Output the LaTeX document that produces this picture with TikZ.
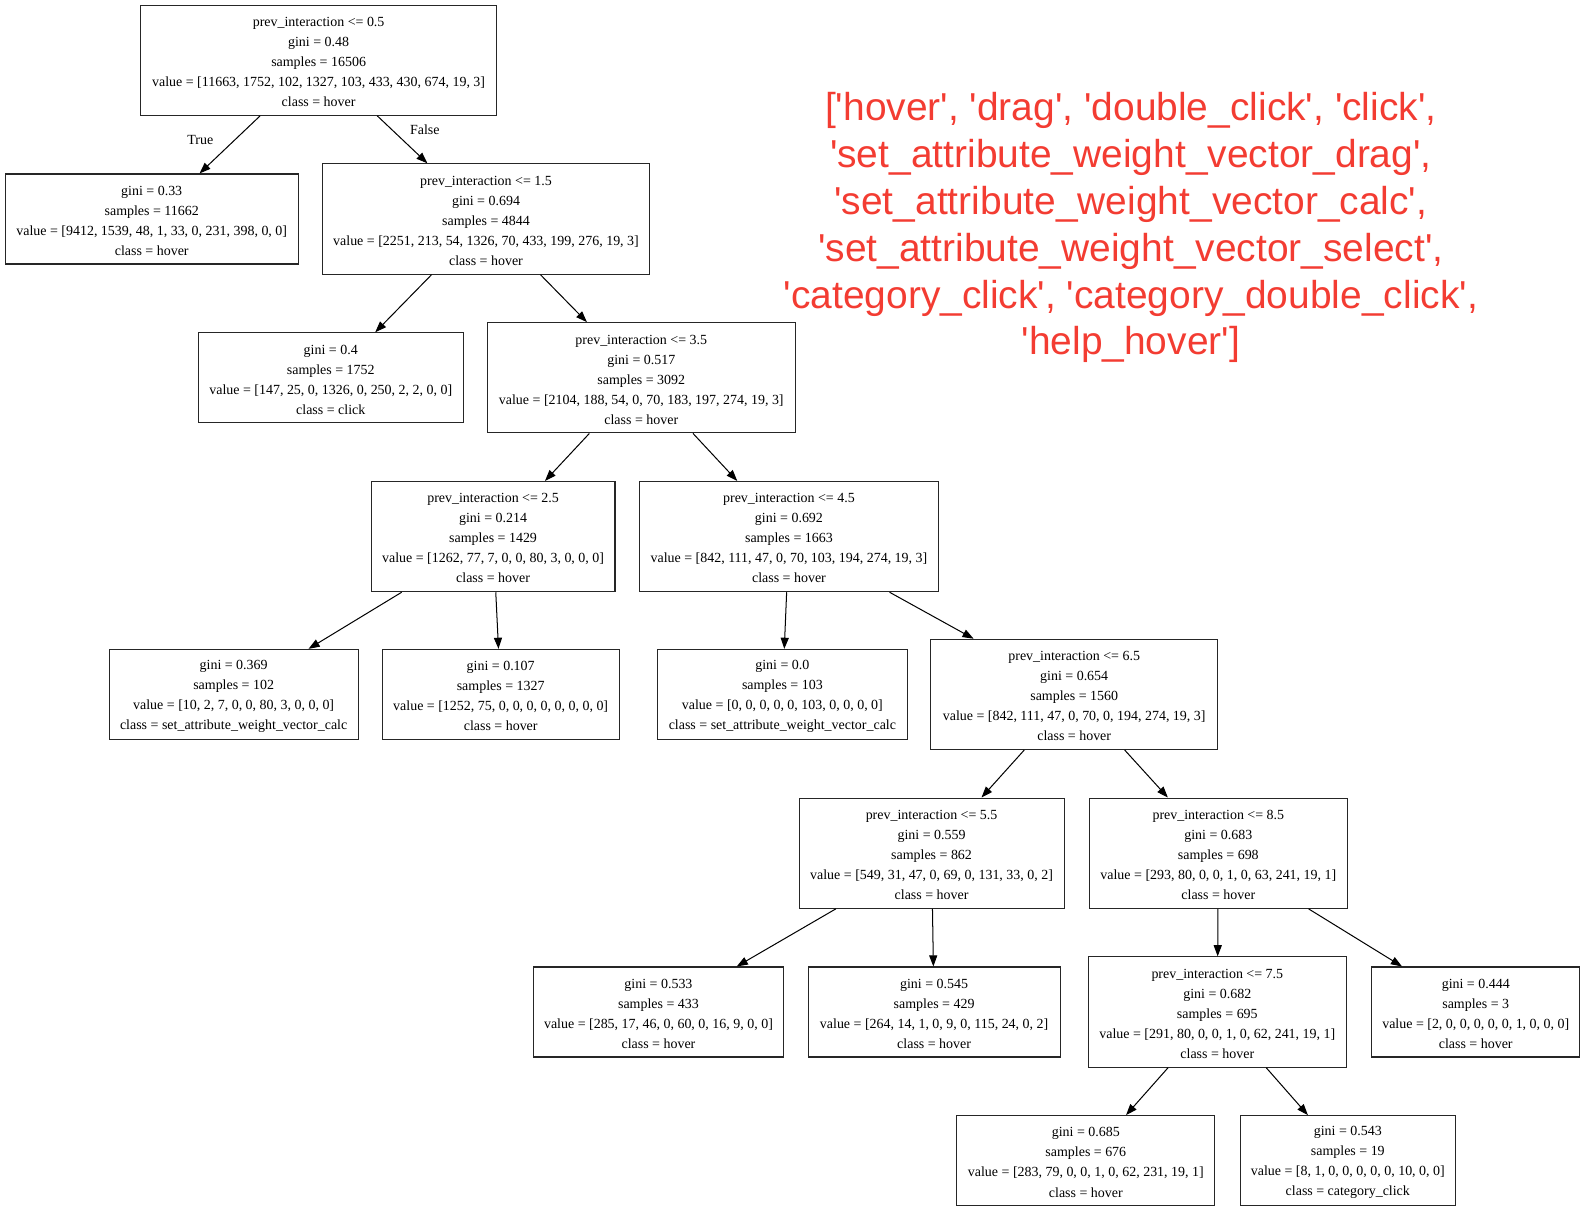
\documentclass[tikz,border=0pt]{standalone}
\usepackage{fontspec}
\setmainfont{Liberation Serif}
\newfontfamily\listfont{Liberation Sans}
\usetikzlibrary{arrows.meta}
\definecolor{classred}{RGB}{243,60,50}
\begin{document}
\begin{tikzpicture}[x=1pt,y=-1pt,
  tn/.style={draw=black!85, line width=1.05pt, rectangle, inner sep=0pt},
  txt/.style={align=center, inner sep=0pt, yshift=-1.7pt,
    font=\fontsize{13.8}{19.8}\selectfont},
  leaf/.style={tn, minimum height=89pt},
  split/.style={tn, minimum height=109pt},
  edge/.style={line width=1pt, -{Triangle[length=11pt,width=8pt]}},
  elabel/.style={font=\fontsize{13.8}{19.8}\selectfont, inner sep=0pt}]
\useasboundingbox (0,0) rectangle (1568,1198);

% decision tree nodes; the box text is set as a centred label
\node[split, minimum width=352pt, label={[txt]center:{prev\_interaction <= 0.5\\gini = 0.48\\samples = 16506\\value = [11663, 1752, 102, 1327, 103, 433, 430, 674, 19, 3]\\class = hover}}] (root) at (315,59.5) {};
\node[leaf, minimum width=290pt, label={[txt]center:{gini = 0.33\\samples = 11662\\value = [9412, 1539, 48, 1, 33, 0, 231, 398, 0, 0]\\class = hover}}] (n1) at (150,216.5) {};
\node[split, minimum width=323pt, label={[txt]center:{prev\_interaction <= 1.5\\gini = 0.694\\samples = 4844\\value = [2251, 213, 54, 1326, 70, 433, 199, 276, 19, 3]\\class = hover}}] (n2) at (480.5,216.5) {};
\node[leaf, minimum width=262pt, label={[txt]center:{gini = 0.4\\samples = 1752\\value = [147, 25, 0, 1326, 0, 250, 2, 2, 0, 0]\\class = click}}] (n3) at (327,373.5) {};
\node[split, minimum width=304pt, label={[txt]center:{prev\_interaction <= 3.5\\gini = 0.517\\samples = 3092\\value = [2104, 188, 54, 0, 70, 183, 197, 274, 19, 3]\\class = hover}}] (n4) at (634,373.5) {};
\node[split, minimum width=241pt, label={[txt]center:{prev\_interaction <= 2.5\\gini = 0.214\\samples = 1429\\value = [1262, 77, 7, 0, 0, 80, 3, 0, 0, 0]\\class = hover}}] (n5) at (487.5,530.5) {};
\node[split, minimum width=296pt, label={[txt]center:{prev\_interaction <= 4.5\\gini = 0.692\\samples = 1663\\value = [842, 111, 47, 0, 70, 103, 194, 274, 19, 3]\\class = hover}}] (n6) at (780,530.5) {};
\node[leaf, minimum width=246pt, label={[txt]center:{gini = 0.369\\samples = 102\\value = [10, 2, 7, 0, 0, 80, 3, 0, 0, 0]\\class = set\_attribute\_weight\_vector\_calc}}] (n7) at (231,686.5) {};
\node[leaf, minimum width=234pt, label={[txt]center:{gini = 0.107\\samples = 1327\\value = [1252, 75, 0, 0, 0, 0, 0, 0, 0, 0]\\class = hover}}] (n8) at (495,686.5) {};
\node[leaf, minimum width=247pt, label={[txt]center:{gini = 0.0\\samples = 103\\value = [0, 0, 0, 0, 0, 103, 0, 0, 0, 0]\\class = set\_attribute\_weight\_vector\_calc}}] (n9) at (773.5,686.5) {};
\node[split, minimum width=284pt, label={[txt]center:{prev\_interaction <= 6.5\\gini = 0.654\\samples = 1560\\value = [842, 111, 47, 0, 70, 0, 194, 274, 19, 3]\\class = hover}}] (n10) at (1062,686.5) {};
\node[split, minimum width=262pt, label={[txt]center:{prev\_interaction <= 5.5\\gini = 0.559\\samples = 862\\value = [549, 31, 47, 0, 69, 0, 131, 33, 0, 2]\\class = hover}}] (n11) at (921,843.5) {};
\node[split, minimum width=255pt, label={[txt]center:{prev\_interaction <= 8.5\\gini = 0.683\\samples = 698\\value = [293, 80, 0, 0, 1, 0, 63, 241, 19, 1]\\class = hover}}] (n12) at (1204.5,843.5) {};
\node[leaf, minimum width=248pt, label={[txt]center:{gini = 0.533\\samples = 433\\value = [285, 17, 46, 0, 60, 0, 16, 9, 0, 0]\\class = hover}}] (n13) at (651,1000.5) {};
\node[leaf, minimum width=249pt, label={[txt]center:{gini = 0.545\\samples = 429\\value = [264, 14, 1, 0, 9, 0, 115, 24, 0, 2]\\class = hover}}] (n14) at (923.5,1000.5) {};
\node[split, minimum width=255pt, label={[txt]center:{prev\_interaction <= 7.5\\gini = 0.682\\samples = 695\\value = [291, 80, 0, 0, 1, 0, 62, 241, 19, 1]\\class = hover}}] (n15) at (1203.5,1000.5) {};
\node[leaf, minimum width=206pt, label={[txt]center:{gini = 0.444\\samples = 3\\value = [2, 0, 0, 0, 0, 0, 1, 0, 0, 0]\\class = hover}}] (n16) at (1459,1000.5) {};
\node[leaf, minimum width=255pt, label={[txt]center:{gini = 0.685\\samples = 676\\value = [283, 79, 0, 0, 1, 0, 62, 231, 19, 1]\\class = hover}}] (n17) at (1073.5,1147.5) {};
\node[leaf, minimum width=213pt, label={[txt]center:{gini = 0.543\\samples = 19\\value = [8, 1, 0, 0, 0, 0, 0, 10, 0, 0]\\class = category\_click}}] (n18) at (1332.5,1147.5) {};

% connectors
\draw[edge] (root) -- (n1);
\draw[edge] (root) -- (n2);
\draw[edge] (n2) -- (n3);
\draw[edge] (n2) -- (n4);
\draw[edge] (n4) -- (n5);
\draw[edge] (n4) -- (n6);
\draw[edge] (n5) -- (n7);
\draw[edge] (n5) -- (n8);
\draw[edge] (n6) -- (n9);
\draw[edge] (n6) -- (n10);
\draw[edge] (n10) -- (n11);
\draw[edge] (n10) -- (n12);
\draw[edge] (n11) -- (n13);
\draw[edge] (n11) -- (n14);
\draw[edge] (n12) -- (n15);
\draw[edge] (n12) -- (n16);
\draw[edge] (n15) -- (n17);
\draw[edge] (n15) -- (n18);

% branch labels
\node[elabel] (lbltrue) at (198,138) {True};
\node[elabel] (lblfalse) at (420,128) {False};

% class names
\node[text=classred, align=center, inner sep=0pt,
  font=\listfont\fontsize{38.5}{46.4}\selectfont] (classes) at (1118,225)
  {['hover', 'drag', 'double\_click', 'click',\\'set\_attribute\_weight\_vector\_drag',\\'set\_attribute\_weight\_vector\_calc',\\'set\_attribute\_weight\_vector\_select',\\'category\_click', 'category\_double\_click',\\'help\_hover']};
\end{tikzpicture}
\end{document}
